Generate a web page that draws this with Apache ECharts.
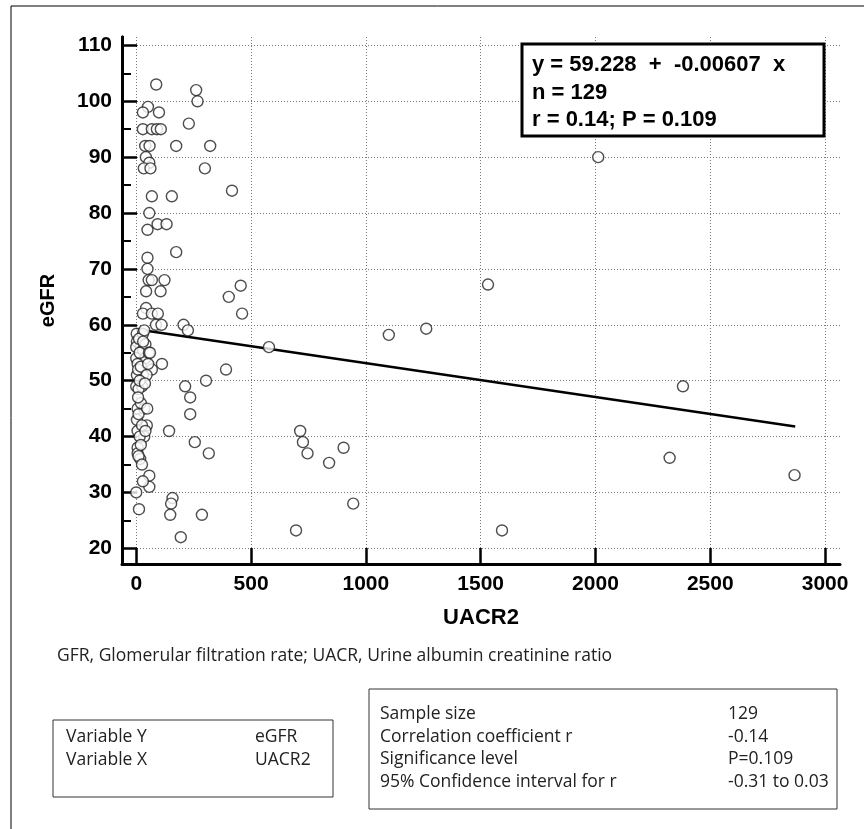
<!DOCTYPE html>
<html><head><meta charset="utf-8">
<script src="https://cdn.jsdelivr.net/npm/echarts@6/dist/echarts.min.js"></script>
<style>html,body{margin:0;padding:0;background:#fff}#chart{width:864px;height:829px}</style>
</head><body><div id="chart"></div>
<script>
// UACR2 (x) values of each patient
const uacr = [87,261,267,51,29,99,229,29,68,90,107,39,58,174,322,42,57,33,62,299,
  417,68,155,57,93,132,49,174,49,49,54,68,123,455,43,106,403,43,29,68,
  94,461,86,110,206,225,2012,1532,1100,1263,2381,903,840,2323,2867,945,1593,696,714,726,
  746,578,391,304,213,235,235,143,255,316,158,152,148,286,12,0,57,57,29,112,
  68,194,2,29,3,20,0,46,29,0,39,6,29,3,0,25,10,6,35,3,
  46,6,35,6,6,17,12,40,15,55,8,20,45,15,38,20,10,25,15,40,
  10,20,48,35,60,52,30,8,25];
// eGFR (y) values
const egfr = [103,102,100,99,98,98,96,95,95,95,95,92,92,92,92,90,89,88,88,88,
  84,83,83,80,78,78,77,73,72,70,68,68,68,67,66,66,65,63,62,62,
  62,62,60,60,60,59,90,67.2,58.2,59.3,49,38,35.3,36.2,33.1,28,23.2,23.2,41,39,
  37,56,52,50,49,47,44,41,39,37,29,28,26,26,27,30,33,31,32,53,
  52,22,58.4,58.4,57,56,56,55,55.5,54,54,53,51,51,49,49,48.5,45,45,43,
  42,41,40,38,37,36,57.5,56.5,55,55,52,52.5,51,50,49.5,46,44,42,40,41,
  36.5,38.5,45,59,55,53,57,47,35];
// regression line endpoints
const fitX = [0, 2870];
const fitY = [59.2, 41.8];
const xTicks = [0, 500, 1000, 1500, 2000, 2500, 3000];
const yTicks = [20, 30, 40, 50, 60, 70, 80, 90, 100, 110];
const yMinorTicks = [25, 35, 45, 55, 65, 75, 85, 95, 105];
const eqLines = ['y = 59.228  +  -0.00607  x', 'n = 129', 'r = 0.14; P = 0.109'];
const footnote = 'GFR, Glomerular filtration rate; UACR, Urine albumin creatinine ratio';
const varLabels = ['Variable Y', 'Variable X'];
const varValues = ['eGFR', 'UACR2'];
const statLabels = ['Sample size', 'Correlation coefficient r', 'Significance level', '95% Confidence interval for r'];
const statValues = ['129', '-0.14', 'P=0.109', '-0.31 to 0.03'];

const points = uacr.map((x, i) => [x, egfr[i]]);
const fitLine = fitX.map((x, i) => [x, fitY[i]]);
const boldFont = 'Liberation Sans, Arial, sans-serif';
const plainFont = 'Open Sans, sans-serif';
const plainSize = 17.5;

const graphics = [
  {type: 'line', shape: {x1: 11, y1: 6, x2: 864, y2: 6}, style: {stroke: '#000', lineWidth: 1}},
  {type: 'line', shape: {x1: 11, y1: 6, x2: 11, y2: 829}, style: {stroke: '#000', lineWidth: 1}},
  {type: 'rect', z: 100, shape: {x: 522, y: 44, width: 302, height: 92}, style: {fill: '#fff', stroke: '#000', lineWidth: 3}},
  {type: 'text', x: 57, y: 656, style: {text: footnote, font: plainSize + 'px ' + plainFont, fill: '#222', verticalAlign: 'middle'}},
  {type: 'rect', shape: {x: 53, y: 720, width: 280, height: 77}, style: {fill: 'none', stroke: '#333', lineWidth: 1}},
  {type: 'rect', shape: {x: 369, y: 689, width: 468, height: 120}, style: {fill: 'none', stroke: '#333', lineWidth: 1}}
];
eqLines.forEach((t, i) => graphics.push({type: 'text', z: 101, x: 532, y: 65 + i * 27.5,
  style: {text: t, font: 'bold 22px ' + boldFont, fill: '#000', verticalAlign: 'middle'}}));
varLabels.forEach((t, i) => {
  graphics.push({type: 'text', x: 66, y: 737 + i * 23, style: {text: t, font: plainSize + 'px ' + plainFont, fill: '#222', verticalAlign: 'middle'}});
  graphics.push({type: 'text', x: 255, y: 737 + i * 23, style: {text: varValues[i], font: plainSize + 'px ' + plainFont, fill: '#222', verticalAlign: 'middle'}});
});
statLabels.forEach((t, i) => {
  graphics.push({type: 'text', x: 380, y: 714 + i * 22.7, style: {text: t, font: plainSize + 'px ' + plainFont, fill: '#222', verticalAlign: 'middle'}});
  graphics.push({type: 'text', x: 728, y: 714 + i * 22.7, style: {text: statValues[i], font: plainSize + 'px ' + plainFont, fill: '#222', verticalAlign: 'middle'}});
});

const chart = echarts.init(document.getElementById('chart'), null, {renderer: 'canvas'});
chart.setOption({
  animation: false,
  backgroundColor: '#fff',
  grid: {left: 122, right: 24, top: 37, bottom: 265, containLabel: false},
  xAxis: {
    type: 'value', min: -62, max: 3065,
    name: 'UACR2', nameLocation: 'middle', nameGap: 43,
    nameTextStyle: {fontFamily: boldFont, fontWeight: 'bold', fontSize: 22, color: '#000'},
    axisLine: {onZero: false, lineStyle: {color: '#000', width: 3}},
    axisTick: {inside: true, length: 16, customValues: xTicks, lineStyle: {color: '#000', width: 2.5}},
    axisLabel: {customValues: xTicks, margin: 10, formatter: v => String(v), fontFamily: boldFont, fontWeight: 'bold', fontSize: 21, color: '#000'},
    splitLine: {show: true, lineStyle: {color: '#777', width: 1, type: [1, 2]}}
  },
  yAxis: [{
    type: 'value', min: 17.2, max: 111.5, position: 'left',
    name: 'eGFR', nameLocation: 'middle', nameGap: 64,
    nameTextStyle: {fontFamily: boldFont, fontWeight: 'bold', fontSize: 20, color: '#000'},
    axisLine: {onZero: false, lineStyle: {color: '#000', width: 3}},
    axisTick: {inside: true, length: 15, customValues: yTicks, lineStyle: {color: '#000', width: 2.5}},
    axisLabel: {customValues: yTicks, margin: 10, formatter: v => String(v), fontFamily: boldFont, fontWeight: 'bold', fontSize: 21, color: '#000'},
    splitLine: {show: true, lineStyle: {color: '#777', width: 1, type: [1, 2]}}
  }, {
    type: 'value', min: 17.2, max: 111.5, position: 'left',
    axisLine: {show: true, onZero: false, lineStyle: {color: '#000', width: 3}},
    axisTick: {show: true, inside: true, length: 9, customValues: yMinorTicks, lineStyle: {color: '#000', width: 2}},
    axisLabel: {show: false},
    splitLine: {show: false}
  }],
  series: [{
    type: 'line', data: fitLine, showSymbol: false, symbol: 'none', z: 3,
    lineStyle: {color: '#000', width: 2.5}, silent: true
  }, {
    type: 'scatter', data: points, symbol: 'circle', symbolSize: 11, z: 4,
    itemStyle: {color: '#fff', borderColor: '#222', borderWidth: 1.4}
  }],
  graphic: graphics
});
</script></body></html>
